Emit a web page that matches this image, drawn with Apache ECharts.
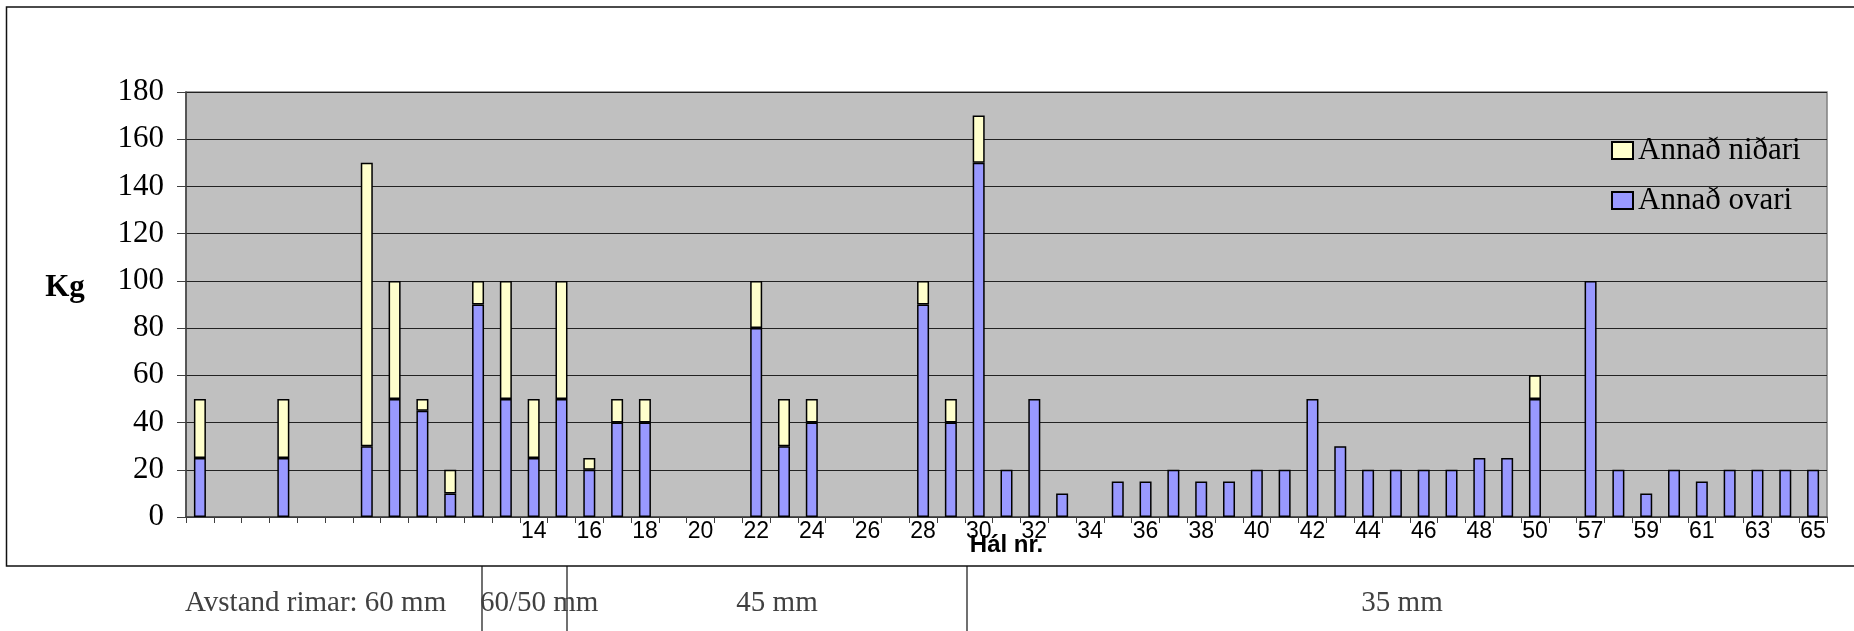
<!DOCTYPE html>
<html>
<head>
<meta charset="utf-8">
<script src="https://cdn.jsdelivr.net/npm/echarts@6/dist/echarts.min.js"></script>
<style>
html,body{margin:0;padding:0;background:#fff;}
#chart{width:1854px;height:631px;}
</style>
</head>
<body>
<div id="chart"></div>
<script>
// Haul numbers (first 12 hauls and one between 50 and 57 carry no label)
const haulLabels = ['', '', '', '', '', '', '', '', '', '', '', '',
  '14','15','16','17','18','19','20','21','22','23','24','25','26','27','28','29','30','31','32','33',
  '34','35','36','37','38','39','40','41','42','43','44','45','46','47','48','49','50',
  '',
  '57','58','59','60','61','62','63','64','65'];

// Annað ovari (lower part, kg)
const ovari = [25, null, null, 25, null, null, 30, 50, 45, 10, 90, 50,
  25, 50, 20, 40, 40, null, null, null, 80, 30, 40, null, null, null, 90, 40, 150, 20, 50, 10,
  null, 15, 15, 20, 15, 15, 20, 20, 50, 30, 20, 20, 20, 20, 25, 25, 50,
  null,
  100, 20, 10, 20, 15, 20, 20, 20, 20];

// Annað niðari (upper part, kg)
const nidari = [25, null, null, 25, null, null, 120, 50, 5, 10, 10, 50,
  25, 50, 5, 10, 10, null, null, null, 20, 20, 10, null, null, null, 10, 10, 20, null, null, null,
  null, null, null, null, null, null, null, null, null, null, null, null, null, null, null, null, 10,
  null,
  null, null, null, null, null, null, null, null, null];

const yTicks = {min: 0, max: 180, interval: 20};

const meshTexts = [
  {text: 'Avstand rimar: 60 mm', x: 185, align: 'left'},
  {text: '60/50 mm', x: 480, align: 'left'},
  {text: '45 mm', x: 777, align: 'center'},
  {text: '35 mm', x: 1402, align: 'center'}
];
const dividerX = [482, 567, 967];

const chart = echarts.init(document.getElementById('chart'), null, {renderer: 'canvas'});

const graphics = [
  {type: 'polyline', shape: {points: [[1860, 7], [6.5, 7], [6.5, 566], [1860, 566]]},
   style: {stroke: '#111', lineWidth: 1.5, fill: null}, z: 10}
];
dividerX.forEach(function (x) {
  graphics.push({type: 'line', shape: {x1: x, y1: 566, x2: x, y2: 631},
    style: {stroke: '#111', lineWidth: 1.2}, z: 10});
});
meshTexts.forEach(function (t) {
  graphics.push({type: 'text', x: t.x, y: 603, z: 10,
    style: {text: t.text, fill: '#404040', font: '29px "Liberation Serif"',
      textAlign: t.align, textVerticalAlign: 'middle'}});
});
graphics.push({type: 'text', x: 65, y: 288, z: 10,
  style: {text: 'Kg', fill: '#000', font: 'bold 31px "Liberation Serif"',
    textAlign: 'center', textVerticalAlign: 'middle'}});

chart.setOption({
  backgroundColor: '#ffffff',
  animation: false,
  grid: {left: 186, right: 27, top: 92, bottom: 114, show: true,
    backgroundColor: '#c0c0c0', borderColor: '#808080', borderWidth: 1.5},
  legend: {
    data: ['Annað niðari', 'Annað ovari'],
    orient: 'vertical', left: 1611, top: 135, padding: 0,
    itemWidth: 21, itemHeight: 17, itemGap: 19,
    icon: 'rect',
    textStyle: {fontFamily: 'Liberation Serif', fontSize: 31, color: '#000', lineHeight: 31}
  },
  xAxis: {
    type: 'category',
    data: haulLabels,
    name: 'Hál nr.',
    nameLocation: 'middle',
    nameGap: 16,
    nameMoveOverlap: false,
    nameTextStyle: {fontFamily: 'Liberation Sans', fontWeight: 'bold', fontSize: 24, color: '#000'},
    axisLine: {lineStyle: {color: '#404040', width: 1.5}},
    axisTick: {show: true, interval: 0, length: 6, lineStyle: {color: '#404040'}},
    axisLabel: {interval: 1, margin: 3, fontFamily: 'Liberation Sans', fontSize: 23, color: '#000'},
    splitLine: {show: false}
  },
  yAxis: {
    type: 'value',
    min: yTicks.min, max: yTicks.max, interval: yTicks.interval,
    axisLine: {show: true, lineStyle: {color: '#404040', width: 1.5}},
    axisTick: {show: true, length: 9, lineStyle: {color: '#404040'}},
    axisLabel: {margin: 22, fontFamily: 'Liberation Serif', fontSize: 31, color: '#000', padding: [10, 0, 0, 0]},
    splitLine: {show: true, lineStyle: {color: '#222', width: 1.2}}
  },
  series: [
    {name: 'Annað ovari', type: 'bar', stack: 'kg', data: ovari, barWidth: 12,
      itemStyle: {color: '#9999ff', borderColor: '#000', borderWidth: 1.5}},
    {name: 'Annað niðari', type: 'bar', stack: 'kg', data: nidari, barWidth: 12,
      itemStyle: {color: '#ffffcc', borderColor: '#000', borderWidth: 1.5}}
  ],
  graphic: graphics
});
</script>
</body>
</html>
